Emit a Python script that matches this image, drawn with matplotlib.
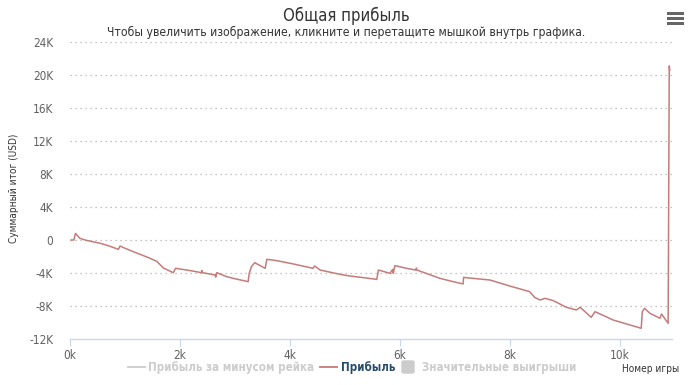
import matplotlib
matplotlib.use("Agg")
import matplotlib.pyplot as plt
from matplotlib.lines import Line2D
from matplotlib.patches import Rectangle, FancyBboxPatch
from matplotlib.ticker import FuncFormatter

plt.rcParams['font.family'] = ['DejaVu Sans']
plt.rcParams['font.stretch'] = 'condensed'

# Data (game number, cumulative profit USD)
games = [20, 70, 100, 180, 300, 550, 700, 880, 910, 1000, 1150, 1300, 1450, 1580, 1700,
         1880, 1920, 2180, 2390, 2400, 2410, 2640, 2650, 2670, 2850, 2970, 3240, 3260,
         3300, 3360, 3550, 3580, 3760, 4060, 4420, 4450, 4550, 4910, 5090, 5580, 5610,
         5820, 5870, 5880, 5910, 6120, 6290, 6300, 6310, 6730, 6970, 7150, 7160, 7330,
         7640, 8000, 8360, 8450, 8550, 8640, 8790, 9030, 9210, 9280, 9480, 9550, 9880,
         10390, 10410, 10450, 10550, 10730, 10760, 10880, 10900, 10910]
profit = [0, 0, 800, 200, -50, -400, -700, -1130, -730, -1000, -1410, -1800, -2200, -2600, -3400,
          -3960, -3430, -3700, -3960, -3700, -3960, -4240, -4500, -3960, -4440, -4650, -5050, -4040,
          -3230, -2750, -3430, -2340, -2500, -2900, -3430, -3150, -3640, -4160, -4360, -4770, -3640,
          -4040, -3560, -4040, -3110, -3430, -3640, -3400, -3640, -4650, -5050, -5330, -4530, -4650,
          -4850, -5580, -6260, -6950, -7270, -7070, -7350, -8160, -8480, -8160, -9370, -8690, -9700,
          -10700, -8690, -8280, -8890, -9490, -8970, -10100, 21100, 20600]

y_ticks = [-12000, -8000, -4000, 0, 4000, 8000, 12000, 16000, 20000, 24000]
x_ticks = [0, 2000, 4000, 6000, 8000, 10000]

title = "Общая прибыль"
subtitle = "Чтобы увеличить изображение, кликните и перетащите мышкой внутрь графика."
ylabel = "Суммарный итог (USD)"
xlabel = "Номер игры"
legend_items = ["Прибыль за минусом рейка", "Прибыль", "Значительные выигрыши"]

W, H = 690, 385
fig = plt.figure(figsize=(W/100, H/100), dpi=100)
ax = fig.add_axes([70/W, 1-339/H, (672-70)/W, (339-42)/H])

line_color = "#c47c7a"
ax.plot(games, profit, color=line_color, lw=1.1)

ax.set_xlim(0, 10950)
ax.set_ylim(-12000, 24000)
ax.set_yticks(y_ticks)
ax.set_xticks(x_ticks)

def yfmt(v, p):
    if v == 0:
        return "0"
    return ("-" if v < 0 else "") + f"{abs(int(v))//1000}K"
ax.yaxis.set_major_formatter(FuncFormatter(yfmt))
ax.xaxis.set_major_formatter(FuncFormatter(lambda v, p: f"{int(v)//1000}k"))

for t in y_ticks:
    if t > -12000:
        ax.axhline(t, color="#b0b0b0", lw=0.9, ls=(0, (1, 3)), zorder=0)

for s in ["top", "right", "left"]:
    ax.spines[s].set_visible(False)
ax.spines["bottom"].set_color("#ccd6eb")
ax.spines["bottom"].set_linewidth(1.0)

ax.tick_params(axis='y', length=0, pad=12, labelsize=8.5, labelcolor="#606060")
ax.tick_params(axis='x', length=5, width=0.8, color="#ccd6eb", pad=2, labelsize=8.5, labelcolor="#606060")

# Titles
fig.text(346/W, 1-16/H, title, ha='center', va='center', fontsize=12, color="#333333")
fig.text(346/W, 1-32/H, subtitle, ha='center', va='center', fontsize=8.7, color="#333333")
fig.text(14/W, 1-188/H, ylabel, rotation=90, ha='center', va='center', fontsize=7.2, color="#333333")
fig.text(679/W, 1-369/H, xlabel, ha='right', va='center', fontsize=7.2, color="#333333")

# Hamburger icon
for yy in [12, 17, 22]:
    fig.patches.append(Rectangle((667/W, 1-(yy+2.6)/H), 17/W, 2.6/H, lw=0,
                                 transform=fig.transFigure, facecolor="#666666"))

# Legend
ly = 1-367/H
fig.lines.append(Line2D([128/W, 145/W], [ly, ly], transform=fig.transFigure, color="#cccccc", lw=1.3))
fig.text(148/W, ly, legend_items[0], ha='left', va='center', fontsize=8.3, color="#cccccc", fontweight='bold')
fig.lines.append(Line2D([320/W, 337/W], [ly, ly], transform=fig.transFigure, color=line_color, lw=1.3))
fig.text(341/W, ly, legend_items[1], ha='left', va='center', fontsize=8.3, color="#274b6d", fontweight='bold')
fig.patches.append(FancyBboxPatch((402/W, 1-373/H), 12/W, 12/H, boxstyle="round,pad=0,rounding_size=0.003",
                                  transform=fig.transFigure, color="#cccccc"))
fig.text(422/W, ly, legend_items[2], ha='left', va='center', fontsize=8.3, color="#cccccc", fontweight='bold')

fig.savefig("out.png", dpi=100)
